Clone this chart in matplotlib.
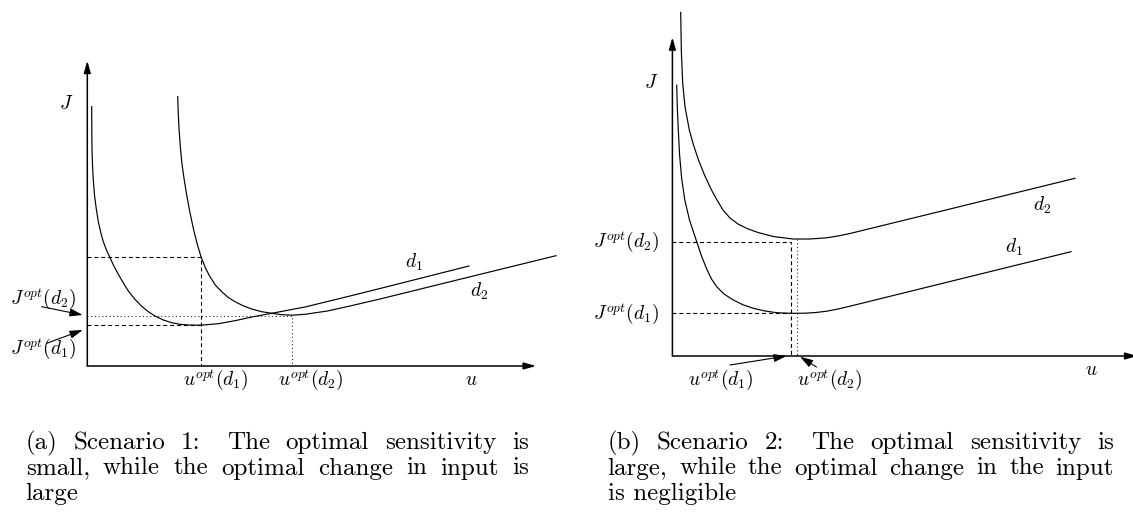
import matplotlib
matplotlib.use('Agg')
import matplotlib.pyplot as plt

plt.rcParams['mathtext.fontset'] = 'cm'
plt.rcParams['font.family'] = ['cmr10', 'DejaVu Sans']
plt.rcParams['axes.unicode_minus'] = False

# ---------------- Panel (a) data (u, J in schematic units) ----------------
a_d1_u = [0.44, 0.45, 0.47, 0.52, 0.60, 0.72, 0.89, 1.10, 1.34, 1.60, 1.90, 2.24,
          2.64, 3.10, 3.57, 4.10, 4.77, 5.44, 6.10, 6.77, 7.60, 8.44, 9.27, 10.10,
          11.37, 13.10, 14.77, 16.44, 18.44, 21.77, 26.27, 29.27, 38.17]
a_d1_J = [25.93, 23.77, 21.77, 20.10, 18.60, 17.10, 15.77, 14.43, 13.37, 12.43, 11.63, 10.90,
          10.03, 9.17, 8.37, 7.50, 6.67, 5.97, 5.43, 5.00, 4.60, 4.33, 4.17, 4.10,
          4.08, 4.23, 4.53, 4.90, 5.27, 5.90, 7.00, 7.75, 10.00]
a_d2_u = [9.04, 9.09, 9.17, 9.29, 9.44, 9.67, 9.94, 10.25, 10.60, 10.97, 11.37, 11.80,
          12.27, 12.80, 13.44, 14.07, 14.77, 15.57, 16.44, 17.44, 18.44, 19.44, 20.50,
          21.77, 24.00, 26.27, 29.27, 38.27, 46.87]
a_d2_J = [26.93, 25.43, 23.77, 22.10, 20.43, 18.77, 17.10, 15.43, 13.77, 12.27, 10.93, 9.83,
          8.93, 8.10, 7.43, 6.87, 6.43, 6.03, 5.70, 5.43, 5.27, 5.13, 5.08,
          5.17, 5.50, 6.00, 6.70, 8.92, 11.03]
a_uopt = [11.37, 20.50]          # u^opt(d1), u^opt(d2)
a_Jopt = [4.10, 5.05]            # J^opt(d1), J^opt(d2)
a_J_d2_at_uopt1 = 10.93          # J(u^opt(d1), d2)
a_axis_len = [44.87, 30.53]      # x-axis, y-axis lengths

# ---------------- Panel (b) data ----------------
b_d1_u = [0.43, 0.49, 0.59, 0.72, 0.92, 1.24, 1.71, 2.43, 2.91, 3.43, 3.91, 4.43,
          5.16, 6.09, 7.06, 8.09, 9.26, 10.43, 11.86, 13.26, 14.36, 15.43, 16.56,
          17.76, 27.76, 39.86]
b_d1_J = [27.07, 24.90, 22.60, 20.10, 17.80, 15.60, 13.60, 11.43, 10.00, 8.70, 7.70, 6.93,
          6.20, 5.60, 5.12, 4.77, 4.50, 4.33, 4.27, 4.28, 4.35, 4.48, 4.70,
          4.98, 7.45, 10.43]
b_d2_u = [0.83, 0.89, 1.03, 1.26, 1.69, 2.11, 2.61, 3.21, 3.91, 4.46, 5.06, 5.76,
          6.56, 7.46, 8.56, 10.09, 12.06, 13.76, 15.43, 16.56, 17.76, 27.76, 40.26]
b_d2_J = [34.37, 30.60, 27.27, 24.93, 22.60, 21.10, 19.60, 18.10, 16.60, 15.60, 14.60, 13.80,
          13.20, 12.75, 12.35, 11.95, 11.70, 11.70, 11.82, 12.00, 12.25, 14.70, 17.77]
b_uopt = [11.86, 12.43]
b_Jopt = [4.27, 11.40]
b_J_d2_min = 11.67
b_axis_len = [46.5, 31.87]

captions_a = ["(a) Scenario 1:  The optimal sensitivity is",
              "small, while the optimal change in input is",
              "large"]
captions_b = ["(b) Scenario 2:  The optimal sensitivity is",
              "large, while the optimal change in the input",
              "is negligible"]

W, H = 1133, 525
fig = plt.figure(figsize=(W / 100, H / 100), dpi=100)

LW_CURVE = 0.85
LW_AXIS = 1.1
DASH = (0, (3.6, 2.6))
DOT = (0, (1.0, 2.8))
FS = 14


def make_axes(px0, px1, ox, oy):
    ax = fig.add_axes([px0 / W, 0, (px1 - px0) / W, 1])
    ax.set_xlim((px0 - ox) / 10, (px1 - ox) / 10)
    ax.set_ylim((oy - H) / 10, oy / 10)
    ax.axis('off')
    return ax


def axis_arrows(ax, lens):
    st = '-|>,head_length=0.6,head_width=0.17'
    ax.annotate('', xy=(lens[0], 0), xytext=(0, 0), annotation_clip=False,
                arrowprops=dict(arrowstyle=st, lw=LW_AXIS, color='black',
                                mutation_scale=12, shrinkA=0, shrinkB=0))
    ax.annotate('', xy=(0, lens[1]), xytext=(0, 0), annotation_clip=False,
                arrowprops=dict(arrowstyle=st, lw=LW_AXIS, color='black',
                                mutation_scale=12, shrinkA=0, shrinkB=0))


def pointer(ax, tail, tip):
    ax.annotate('', xy=tip, xytext=tail, annotation_clip=False,
                arrowprops=dict(arrowstyle='-|>,head_length=0.65,head_width=0.2',
                                lw=0.8, color='black', mutation_scale=12,
                                shrinkA=0, shrinkB=0))


# ---------------- Panel (a) ----------------
ax = make_axes(0, 566, 87.3, 366)
axis_arrows(ax, a_axis_len)
ax.plot(a_d1_u, a_d1_J, color='black', lw=LW_CURVE, solid_joinstyle='round')
ax.plot(a_d2_u, a_d2_J, color='black', lw=LW_CURVE, solid_joinstyle='round')
ax.plot([0, a_uopt[0], a_uopt[0]], [a_J_d2_at_uopt1, a_J_d2_at_uopt1, 0],
        color='black', lw=0.8, ls=DASH)
ax.plot([0, a_uopt[0]], [a_Jopt[0], a_Jopt[0]], color='black', lw=0.8, ls=DASH)
ax.plot([0, a_uopt[1], a_uopt[1]], [a_Jopt[1], a_Jopt[1], 0],
        color='black', lw=0.7, ls=DOT)
ax.text(-2.1, 26.2, r'$J$', fontsize=FS, ha='center', va='center')
ax.text(32.7, 10.4, r'$d_1$', fontsize=FS, ha='center', va='center')
ax.text(39.2, 7.5, r'$d_2$', fontsize=FS, ha='center', va='center')
ax.text(38.4, -1.4, r'$u$', fontsize=FS, ha='center', va='center')
ax.text(12.8, -1.4, r'$u^{opt}(d_1)$', fontsize=FS, ha='center', va='center')
ax.text(22.3, -1.4, r'$u^{opt}(d_2)$', fontsize=FS, ha='center', va='center')
ax.text(-7.75, 6.7, r'$J^{opt}(d_2)$', fontsize=FS, ha='left', va='center')
ax.text(-7.75, 1.75, r'$J^{opt}(d_1)$', fontsize=FS, ha='left', va='center')
pointer(ax, (-4.56, 5.93), (-0.46, 5.10))
pointer(ax, (-4.06, 2.27), (-0.46, 3.60))

# ---------------- Panel (b) ----------------
bx = make_axes(566, 1133, 672.4, 356)
axis_arrows(bx, b_axis_len)
bx.plot(b_d1_u, b_d1_J, color='black', lw=LW_CURVE, solid_joinstyle='round')
bx.plot(b_d2_u, b_d2_J, color='black', lw=LW_CURVE, solid_joinstyle='round')
bx.plot([0, b_uopt[0], b_uopt[0]], [b_Jopt[1], b_Jopt[1], 0],
        color='black', lw=0.8, ls=DASH)
bx.plot([0, b_uopt[0]], [b_Jopt[0], b_Jopt[0]], color='black', lw=0.8, ls=DASH)
bx.plot([b_uopt[1], b_uopt[1]], [b_J_d2_min, 0], color='black', lw=0.7, ls=DOT)
bx.text(-2.1, 27.3, r'$J$', fontsize=FS, ha='center', va='center')
bx.text(37.0, 15.1, r'$d_2$', fontsize=FS, ha='center', va='center')
bx.text(34.2, 10.9, r'$d_1$', fontsize=FS, ha='center', va='center')
bx.text(41.9, -1.4, r'$u$', fontsize=FS, ha='center', va='center')
bx.text(-1.3, b_Jopt[1], r'$J^{opt}(d_2)$', fontsize=FS, ha='right', va='center')
bx.text(-1.3, b_Jopt[0], r'$J^{opt}(d_1)$', fontsize=FS, ha='right', va='center')
bx.text(4.8, -2.4, r'$u^{opt}(d_1)$', fontsize=FS, ha='center', va='center')
bx.text(15.7, -2.4, r'$u^{opt}(d_2)$', fontsize=FS, ha='center', va='center')
pointer(bx, (5.76, -0.90), (11.43, 0.0))
pointer(bx, (14.41, -1.10), (12.76, -0.07))

# ---------------- Captions (justified) ----------------
renderer = fig.canvas.get_renderer()
CFS = 18


def caption(lines, x0, x1, baselines):
    for k, line in enumerate(lines):
        y = 1 - baselines[k] / H
        if k == len(lines) - 1:
            fig.text(x0 / W, y, line, fontsize=CFS, family='cmr10', va='baseline')
            continue
        words = line.replace(':  ', ': ').split(' ')
        texts = [fig.text(0, y, w, fontsize=CFS, family='cmr10', va='baseline')
                 for w in words]
        widths = [t.get_window_extent(renderer).width for t in texts]
        weights = [1.7 if words[i].endswith(':') else 1.0 for i in range(len(words) - 1)]
        gap = (x1 - x0 - sum(widths)) / sum(weights)
        x = x0
        for i, t in enumerate(texts):
            t.set_x(x / W)
            if i < len(weights):
                x += widths[i] + gap * weights[i]


caption(captions_a, 25.7, 528.6, [449, 474.5, 500])
caption(captions_b, 607.5, 1114, [449, 474.5, 500])

fig.savefig('out.png', dpi=100, facecolor='white')
